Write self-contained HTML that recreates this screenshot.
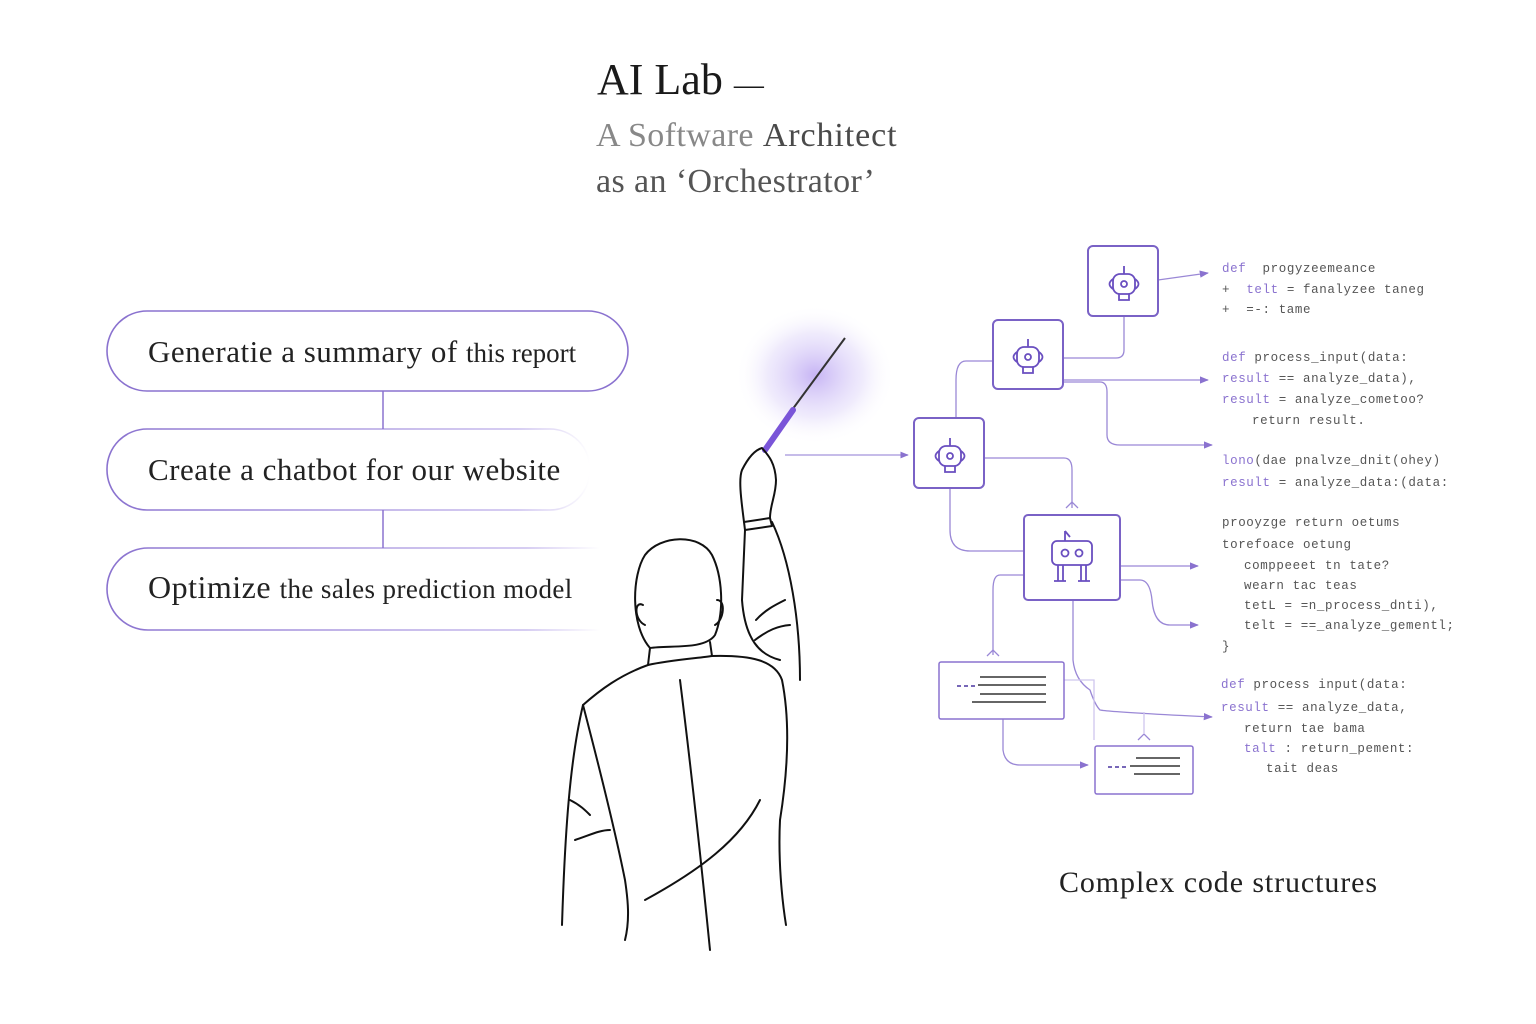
<!DOCTYPE html>
<html><head><meta charset="utf-8"><style>
html,body{margin:0;padding:0;background:#fff;}
svg{display:block}
.serif{font-family:"Liberation Serif",serif}
.mono{font-family:"Liberation Mono",monospace;font-size:12.5px;fill:#555;letter-spacing:0.6px}
.k{fill:#8a72cf}
</style></head><body>
<svg width="1536" height="1024" viewBox="0 0 1536 1024" xmlns="http://www.w3.org/2000/svg">
<defs>
<radialGradient id="glow" cx="0.5" cy="0.5" r="0.5">
<stop offset="0" stop-color="#b9a2f2" stop-opacity="0.8"/>
<stop offset="0.6" stop-color="#d8cdf8" stop-opacity="0.4"/>
<stop offset="1" stop-color="#fff" stop-opacity="0"/>
</radialGradient>
<linearGradient id="fade" x1="0" x2="1"><stop offset="0" stop-color="#8a72cf"/><stop offset="0.85" stop-color="#c9bdee"/><stop offset="1" stop-color="#fff"/></linearGradient>
<marker id="ar" viewBox="0 0 10 10" refX="9" refY="5" markerWidth="7" markerHeight="7" orient="auto"><path d="M0,1 L10,5 L0,9 z" fill="#8a72cf"/></marker>
</defs>

<text x="597" y="94" class="serif" font-size="44" fill="#1a1a1a">AI Lab <tspan font-size="30">—</tspan></text>
<text x="596" y="146" class="serif" font-size="34" fill="#888" letter-spacing="0.4">A Software <tspan fill="#4a4a4a" letter-spacing="0.9">Architect</tspan></text>
<text x="596" y="192" class="serif" font-size="34" fill="#555" letter-spacing="0.4">as an ‘Orchestrator’</text>

<g fill="none" stroke="url(#fade)" stroke-width="1.6">
<rect x="107" y="311" width="521" height="80" rx="40" stroke="#8a72cf"/>
<rect x="107" y="429" width="483" height="81" rx="40"/>
<path d="M600,548 H148 A41,41 0 0 0 148,630 H600"/>
</g>
<g stroke="#8a72cf" stroke-width="1.5"><line x1="383" y1="391" x2="383" y2="429"/><line x1="383" y1="510" x2="383" y2="548"/></g>
<text x="148" y="362" class="serif" font-size="31" fill="#222" letter-spacing="0.5">Generatie a summary of <tspan font-size="27" letter-spacing="0">this report</tspan></text>
<text x="148" y="480" class="serif" font-size="31" fill="#222" letter-spacing="0.5">Create a chatbot for our website</text>
<text x="148" y="598" class="serif" font-size="32" fill="#222" letter-spacing="0.5">Optimize <tspan font-size="27" letter-spacing="0.4">the sales prediction model</tspan></text>

<ellipse cx="815" cy="375" rx="80" ry="70" fill="url(#glow)"/>
<line x1="792" y1="410" x2="845" y2="338" stroke="#333" stroke-width="2"/>
<line x1="765" y1="450" x2="793" y2="410" stroke="#7a55d8" stroke-width="6" stroke-linecap="round"/>
<line x1="785" y1="455" x2="908" y2="455" stroke="#a594dc" stroke-width="1.2" marker-end="url(#ar)"/>

<g fill="none" stroke="#111" stroke-width="2" stroke-linejoin="round" stroke-linecap="round">
<path d="M650,648 C630,625 632,575 645,555 C660,535 700,533 712,555 C722,575 725,610 715,635 C705,650 670,645 650,648 Z"/>
<path d="M643,605 C634,600 634,620 645,625"/><path d="M717,600 C726,600 724,620 715,625"/>
<path d="M650,648 L648,665 C670,660 700,658 712,656 L710,642"/>
<path d="M648,665 C620,675 600,690 583,705 C570,760 565,830 562,925"/>
<path d="M583,705 C600,770 615,830 625,880 C628,900 630,920 625,940"/>
<path d="M712,656 C750,655 775,660 782,680 C790,720 788,770 780,820 C778,860 782,900 786,925"/>
<path d="M680,680 C690,760 700,850 710,950"/>
<path d="M645,900 C700,870 740,840 760,800"/>
<path d="M745,530 L742,600 C745,640 760,655 780,660"/>
<path d="M772,522 C790,560 800,620 800,680"/>
<path d="M744,522 L770,518 L772,526 L745,530 Z"/>
<path d="M744,522 C742,505 738,480 742,470 C748,458 755,450 762,448 C768,455 775,462 776,480 C776,495 770,505 770,518"/>
<path d="M756,620 C765,610 775,605 785,600"/><path d="M755,640 C768,630 778,626 790,625"/>
<path d="M570,800 C580,805 585,810 590,815"/><path d="M575,840 C590,835 600,830 610,830"/>
</g>

<g fill="none" stroke="#9a88d6" stroke-width="1.3">
<path d="M1158,280 L1208,273" marker-end="url(#ar)"/>
<path d="M1124,316 V350 Q1124,358 1116,358 H1063"/>
<path d="M1063,380 H1208" marker-end="url(#ar)"/>
<path d="M1063,382 H1100 Q1107,382 1107,392 V435 Q1107,445 1120,445 H1212" marker-end="url(#ar)"/>
<path d="M993,361 H966 Q956,361 956,380 V418"/>
<path d="M984,458 H1064 Q1072,458 1072,470 V508"/>
<path d="M1066,508 L1072,502 L1078,508"/>
<path d="M950,488 V530 Q950,551 970,551 H1024"/>
<path d="M1120,566 H1198" marker-end="url(#ar)"/>
<path d="M1120,580 H1140 Q1150,580 1152,600 Q1154,625 1170,625 H1198" marker-end="url(#ar)"/>
<path d="M1024,575 H1000 Q993,575 993,590 V655"/>
<path d="M987,656 L993,650 L999,656"/>
<path d="M1073,600 V660 Q1075,680 1090,690 Q1095,705 1100,710 Q1110,712 1212,717" marker-end="url(#ar)"/>
<path d="M1003,719 V750 Q1005,765 1020,765 H1088" marker-end="url(#ar)"/>
<path d="M1064,680 H1094 V740" stroke="#cfc6ee"/>
<path d="M1138,740 L1144,734 L1150,740"/><path d="M1144,734 V712" stroke="#cfc6ee"/>
</g>

<g fill="#fff" stroke="#7a62c6" stroke-width="2">
<rect x="1088" y="246" width="70" height="70" rx="5"/>
<rect x="993" y="320" width="70" height="69" rx="5"/>
<rect x="914" y="418" width="70" height="70" rx="5"/>
<rect x="1024" y="515" width="96" height="85" rx="4"/>
</g>
<g fill="#fff" stroke="#8a72cf" stroke-width="1.5">
<rect x="939" y="662" width="125" height="57" rx="2"/>
<rect x="1095" y="746" width="98" height="48" rx="2"/>
</g>
<g fill="none" stroke="#6a4fc0" stroke-width="1.8">
<g transform="translate(1124,284)"><line x1="0" y1="-18" x2="0" y2="-10"/><rect x="-11" y="-10" width="22" height="20" rx="7"/><path d="M-11,-5 Q-18,0 -11,5 M11,-5 Q18,0 11,5"/><circle r="3"/><path d="M-5,10 V16 H5 V10"/></g>
<g transform="translate(1028,357)"><line x1="0" y1="-18" x2="0" y2="-10"/><rect x="-11" y="-10" width="22" height="20" rx="7"/><path d="M-11,-5 Q-18,0 -11,5 M11,-5 Q18,0 11,5"/><circle r="3"/><path d="M-5,10 V16 H5 V10"/></g>
<g transform="translate(950,456)"><line x1="0" y1="-18" x2="0" y2="-10"/><rect x="-11" y="-10" width="22" height="20" rx="7"/><path d="M-11,-5 Q-18,0 -11,5 M11,-5 Q18,0 11,5"/><circle r="3"/><path d="M-5,10 V16 H5 V10"/></g>
<g transform="translate(1072,555)"><path d="M-7,-24 V-14 M-7,-24 L-2,-18"/><rect x="-20" y="-14" width="40" height="24" rx="5"/><circle cx="-7" cy="-2" r="3.5"/><circle cx="7" cy="-2" r="3.5"/><path d="M-14,10 V26 M-9,10 V26 M9,10 V26 M14,10 V26 M-18,26 H-6 M6,26 H18"/></g>
</g>
<g stroke="#333" stroke-width="1.5">
<line x1="980" y1="677" x2="1046" y2="677"/><line x1="978" y1="685" x2="1046" y2="685"/><line x1="980" y1="694" x2="1046" y2="694"/><line x1="972" y1="702" x2="1046" y2="702"/>
<line x1="1136" y1="758" x2="1180" y2="758"/><line x1="1130" y1="766" x2="1180" y2="766"/><line x1="1134" y1="774" x2="1180" y2="774"/>
</g>
<g stroke="#4a35a0" stroke-width="1.5" stroke-dasharray="4,3"><line x1="957" y1="686" x2="975" y2="686"/><line x1="1108" y1="767" x2="1127" y2="767"/></g>

<g class="mono">
<text x="1222" y="272"><tspan class="k">def</tspan>&#160; progyzeemeance</text>
<text x="1222" y="293">+&#160; <tspan class="k">telt</tspan> = fanalyzee taneg</text>
<text x="1222" y="313">+&#160; =-: tame</text>
<text x="1222" y="361"><tspan class="k">def</tspan> process_input(data:</text>
<text x="1222" y="382"><tspan class="k">result</tspan> == analyze_data),</text>
<text x="1222" y="403"><tspan class="k">result</tspan> = analyze_cometoo?</text>
<text x="1252" y="424">return result.</text>
<text x="1222" y="464"><tspan class="k">lono</tspan>(dae pnalvze_dnit(ohey)</text>
<text x="1222" y="486"><tspan class="k">result</tspan> = analyze_data:(data:</text>
<text x="1222" y="526">proоyzge return oetums</text>
<text x="1222" y="548">torefoace oetung</text>
<text x="1244" y="569">comppeeet tn tate?</text>
<text x="1244" y="589">wearn tac teas</text>
<text x="1244" y="609">tetL = =n_process_dnti),</text>
<text x="1244" y="629">telt = ==_analyze_gementl;</text>
<text x="1222" y="650">}</text>
<text x="1221" y="688"><tspan class="k">def</tspan> process input(data:</text>
<text x="1221" y="711"><tspan class="k">result</tspan> == analyze_data,</text>
<text x="1244" y="732">return tae bama</text>
<text x="1244" y="752"><tspan class="k">talt</tspan> : return_pement:</text>
<text x="1266" y="772">tait deas</text>
</g>

<text x="1059" y="892" class="serif" font-size="30" fill="#222" letter-spacing="0.9">Complex code structures</text>
</svg>
</body></html>
